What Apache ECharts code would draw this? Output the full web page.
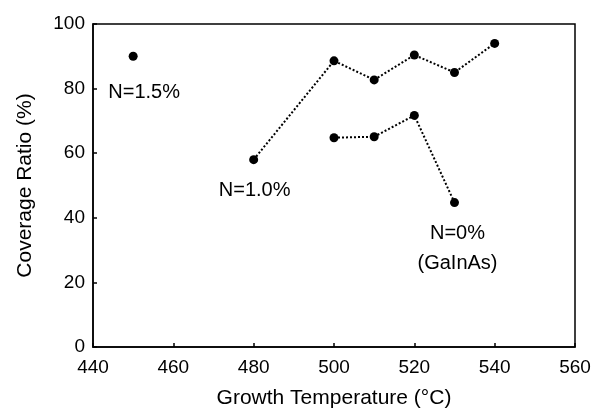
<!DOCTYPE html>
<html>
<head>
<meta charset="utf-8">
<script src="https://cdn.jsdelivr.net/npm/echarts@6/dist/echarts.min.js"></script>
<style>
  html, body {margin: 0; padding: 0; background: #fff;}
  #chart {width: 594px; height: 409px;}
</style>
</head>
<body>
<div id="chart"></div>
<script>
const xTicks = [440, 460, 480, 500, 520, 540, 560];
const yTicks = [0, 20, 40, 60, 80, 100];

const n15Temp = [450];
const n15Cov = [90];

const n10Temp = [480, 500, 510, 520, 530, 540];
const n10Cov = [58, 88.6, 82.7, 90.4, 85, 94];

const n0Temp = [500, 510, 520, 530];
const n0Cov = [64.8, 65.1, 71.7, 44.7];

const font = 'Liberation Sans, Arial, Helvetica, sans-serif';

const pairs = (xs, ys) => xs.map((x, i) => [x, ys[i]]);

const labelAt = (data, idx, text, offset) => {
  data[idx] = {
    value: data[idx],
    label: {
      show: true,
      formatter: text,
      position: 'inside',
      offset: offset,
      color: '#000',
      fontSize: 20,
      fontFamily: font,
      lineHeight: 30,
      align: 'center'
    }
  };
  return data;
};

const chart = echarts.init(document.getElementById('chart'));

const seriesBase = {
  type: 'line',
  symbol: 'circle',
  symbolSize: 9,
  itemStyle: {color: '#000'},
  lineStyle: {color: '#000', width: 2, type: 'dotted'},
  emphasis: {disabled: true}
};

chart.setOption({
  animation: false,
  grid: {
    left: 93, right: 19, top: 24, bottom: 62,
    outerBoundsMode: 'none',
    show: true, borderColor: '#000', borderWidth: 1.5
  },
  xAxis: {
    type: 'value',
    min: xTicks[0], max: xTicks[xTicks.length - 1], interval: 20,
    name: 'Growth Temperature (°C)',
    nameLocation: 'middle',
    nameGap: 41,
    nameTextStyle: {color: '#000', fontSize: 21, fontFamily: font},
    axisLine: {lineStyle: {color: '#000', width: 1.5}},
    axisTick: {inside: true, length: 4, lineStyle: {color: '#000', width: 1.5}},
    axisLabel: {color: '#000', fontSize: 19, fontFamily: font, margin: 11},
    splitLine: {show: false}
  },
  yAxis: {
    type: 'value',
    min: yTicks[0], max: yTicks[yTicks.length - 1], interval: 20,
    name: 'Coverage Ratio (%)',
    nameLocation: 'middle',
    nameGap: 57,
    nameTextStyle: {color: '#000', fontSize: 21, fontFamily: font},
    axisLine: {lineStyle: {color: '#000', width: 1.5}},
    axisTick: {inside: true, length: 4, lineStyle: {color: '#000', width: 1.5}},
    axisLabel: {color: '#000', fontSize: 19, fontFamily: font, margin: 8},
    splitLine: {show: false}
  },
  series: [
    Object.assign({}, seriesBase, {
      name: 'N=1.5%',
      data: labelAt(pairs(n15Temp, n15Cov), 0, 'N=1.5%', [11, 36])
    }),
    Object.assign({}, seriesBase, {
      name: 'N=1.0%',
      data: labelAt(pairs(n10Temp, n10Cov), 0, 'N=1.0%', [1, 31])
    }),
    Object.assign({}, seriesBase, {
      name: 'N=0%',
      data: labelAt(pairs(n0Temp, n0Cov), 3, 'N=0%\n(GaInAs)', [3, 46])
    })
  ]
});
</script>
</body>
</html>
